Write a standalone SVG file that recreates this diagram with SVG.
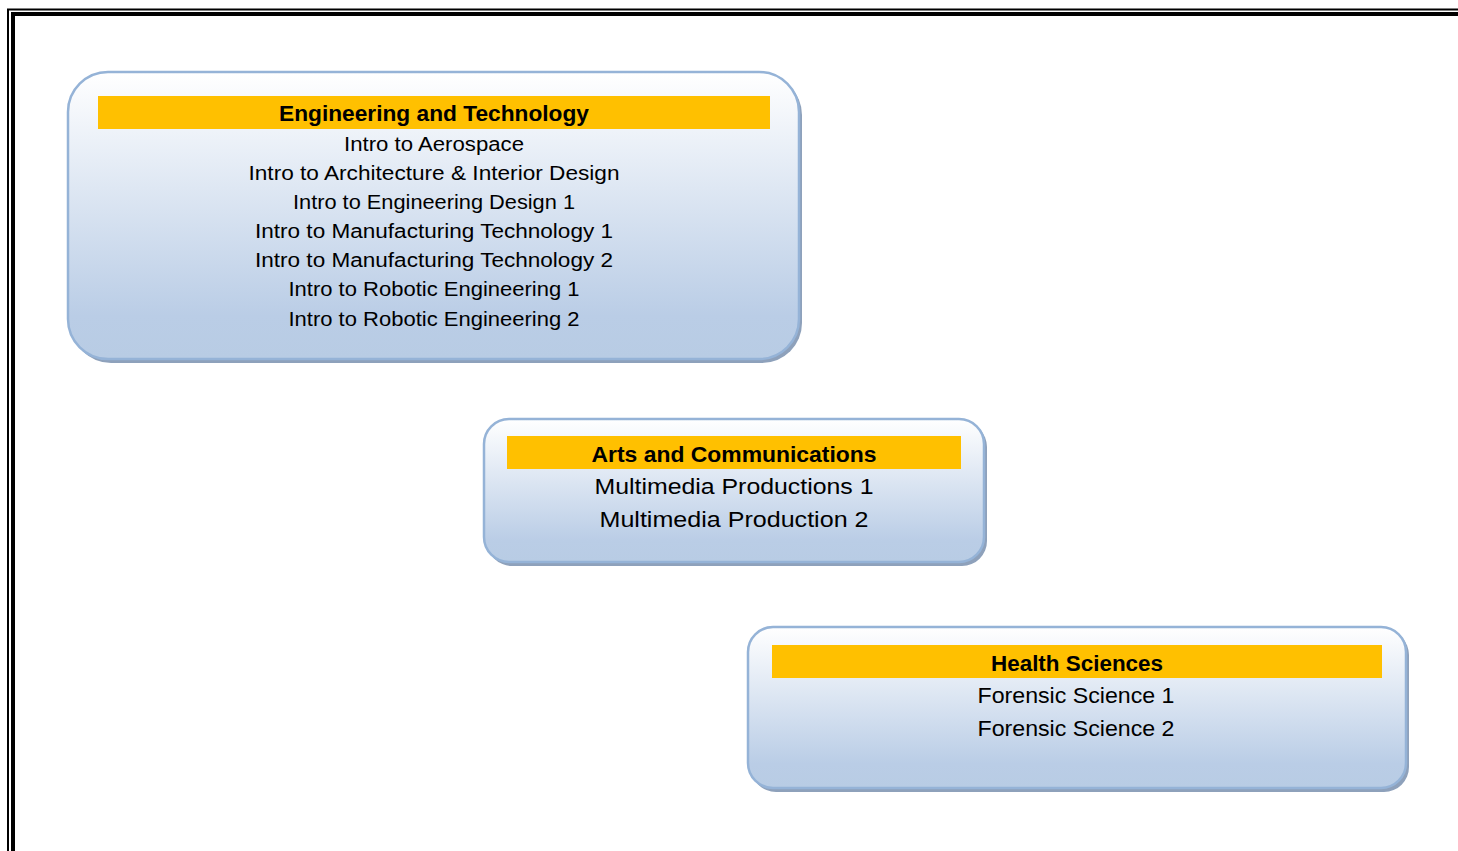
<svg xmlns="http://www.w3.org/2000/svg" width="1458" height="851" viewBox="0 0 1458 851">
<style>
.box{stroke:#95b3d7;stroke-width:2.5;fill:url(#g)}
.sh{fill:#8ea1bb}
.bar{fill:#ffc000}
.t{font-family:"Liberation Sans",Arial,sans-serif;font-weight:bold;fill:#000;text-anchor:middle}
.b{font-family:"Liberation Sans",Arial,sans-serif;fill:#000;text-anchor:middle}
</style>
<defs>
<linearGradient id="g" x1="0" y1="0" x2="0" y2="1">
<stop offset="0" stop-color="#ffffff"/>
<stop offset="0.85" stop-color="#bacde6"/>
<stop offset="1" stop-color="#b8cce4"/>
</linearGradient>
</defs>
<rect width="1458" height="851" fill="#fff"/>
<g id="border">
<path d="M8 851V9.5H1458" fill="none" stroke="#000" stroke-width="2"/>
<path d="M13 851V14H1458" fill="none" stroke="#000" stroke-width="4"/>
</g>
<g id="connectors"></g>
<g id="eng">
<rect class="sh" x="71" y="75" width="731" height="288" rx="40"/>
<rect class="box" x="68" y="72" width="731" height="287" rx="40"/>
<rect class="bar" x="98" y="96" width="672" height="33"/>
<text class="t" x="434" y="121" font-size="22" textLength="310" lengthAdjust="spacingAndGlyphs">Engineering and Technology</text>
<g class="b" font-size="20">
<text x="434" y="151" textLength="180" lengthAdjust="spacingAndGlyphs">Intro to Aerospace</text>
<text x="434" y="180" textLength="371" lengthAdjust="spacingAndGlyphs">Intro to Architecture &amp; Interior Design</text>
<text x="434" y="209" textLength="282" lengthAdjust="spacingAndGlyphs">Intro to Engineering Design 1</text>
<text x="434" y="238" textLength="358" lengthAdjust="spacingAndGlyphs">Intro to Manufacturing Technology 1</text>
<text x="434" y="267" textLength="358" lengthAdjust="spacingAndGlyphs">Intro to Manufacturing Technology 2</text>
<text x="434" y="296" textLength="291" lengthAdjust="spacingAndGlyphs">Intro to Robotic Engineering 1</text>
<text x="434" y="326" textLength="291" lengthAdjust="spacingAndGlyphs">Intro to Robotic Engineering 2</text>
</g>
</g>
<g id="arts">
<rect class="sh" x="487" y="422" width="500" height="144" rx="25"/>
<rect class="box" x="484" y="419" width="500" height="143" rx="25"/>
<rect class="bar" x="507" y="436" width="454" height="33"/>
<text class="t" x="734" y="462" font-size="22" textLength="285" lengthAdjust="spacingAndGlyphs">Arts and Communications</text>
<g class="b" font-size="22">
<text x="734" y="494" textLength="279" lengthAdjust="spacingAndGlyphs">Multimedia Productions 1</text>
<text x="734" y="527" textLength="269" lengthAdjust="spacingAndGlyphs">Multimedia Production 2</text>
</g>
</g>
<g id="health">
<rect class="sh" x="751" y="630" width="658" height="162" rx="25"/>
<rect class="box" x="748" y="627" width="658" height="161" rx="25"/>
<rect class="bar" x="772" y="645" width="610" height="33"/>
<text class="t" x="1077" y="671" font-size="22" textLength="172" lengthAdjust="spacingAndGlyphs">Health Sciences</text>
<g class="b" font-size="22">
<text x="1076" y="703" textLength="197" lengthAdjust="spacingAndGlyphs">Forensic Science 1</text>
<text x="1076" y="736" textLength="197" lengthAdjust="spacingAndGlyphs">Forensic Science 2</text>
</g>
</g>
</svg>
